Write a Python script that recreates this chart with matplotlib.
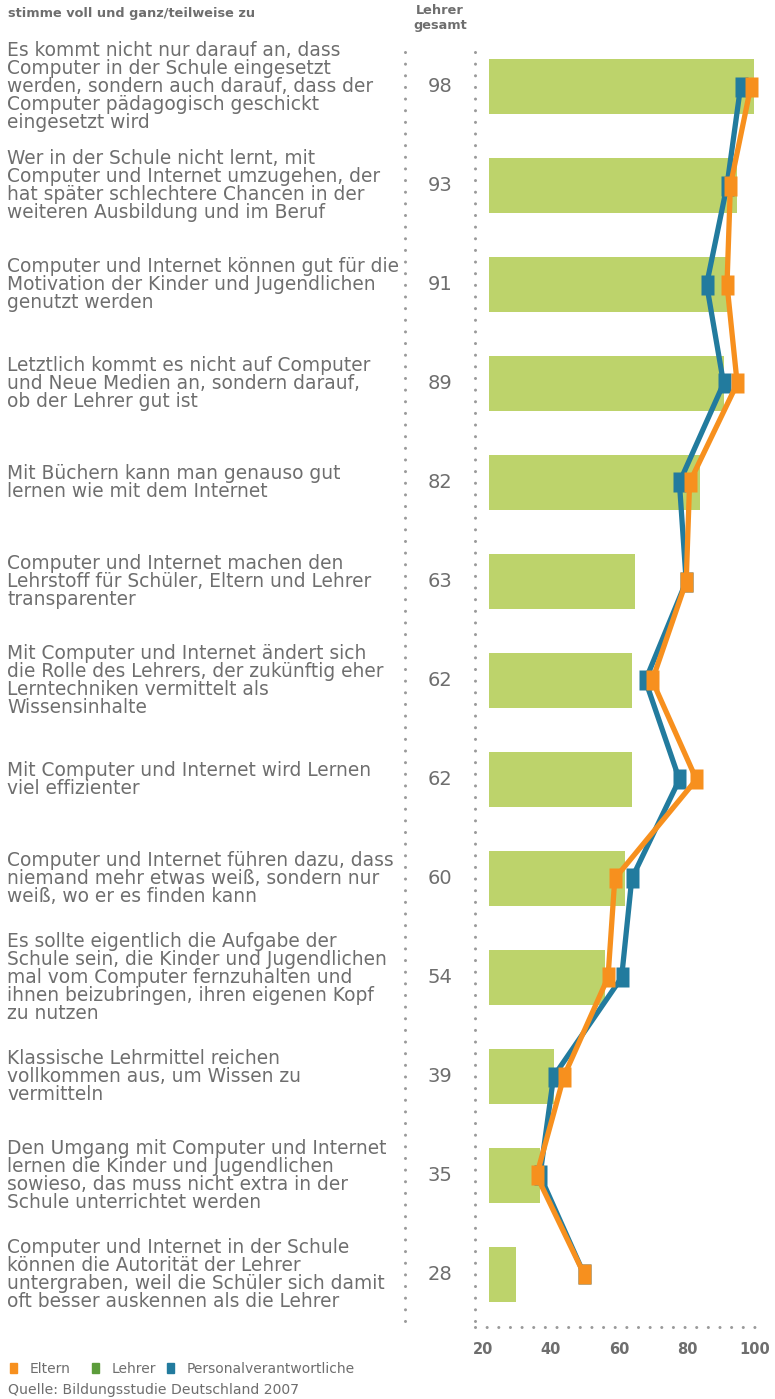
import matplotlib
matplotlib.use("Agg")
import matplotlib.pyplot as plt
from matplotlib.lines import Line2D
from matplotlib.patches import Rectangle
from matplotlib.transforms import blended_transform_factory, ScaledTranslation

# --- data -------------------------------------------------------------
statements = [
    "Es kommt nicht nur darauf an, dass\nComputer in der Schule eingesetzt\nwerden, sondern auch darauf, dass der\nComputer pädagogisch geschickt\neingesetzt wird",
    "Wer in der Schule nicht lernt, mit\nComputer und Internet umzugehen, der\nhat später schlechtere Chancen in der\nweiteren Ausbildung und im Beruf",
    "Computer und Internet können gut für die\nMotivation der Kinder und Jugendlichen\ngenutzt werden",
    "Letztlich kommt es nicht auf Computer\nund Neue Medien an, sondern darauf,\nob der Lehrer gut ist",
    "Mit Büchern kann man genauso gut\nlernen wie mit dem Internet",
    "Computer und Internet machen den\nLehrstoff für Schüler, Eltern und Lehrer\ntransparenter",
    "Mit Computer und Internet ändert sich\ndie Rolle des Lehrers, der zukünftig eher\nLerntechniken vermittelt als\nWissensinhalte",
    "Mit Computer und Internet wird Lernen\nviel effizienter",
    "Computer und Internet führen dazu, dass\nniemand mehr etwas weiß, sondern nur\nweiß, wo er es finden kann",
    "Es sollte eigentlich die Aufgabe der\nSchule sein, die Kinder und Jugendlichen\nmal vom Computer fernzuhalten und\nihnen beizubringen, ihren eigenen Kopf\nzu nutzen",
    "Klassische Lehrmittel reichen\nvollkommen aus, um Wissen zu\nvermitteln",
    "Den Umgang mit Computer und Internet\nlernen die Kinder und Jugendlichen\nsowieso, das muss nicht extra in der\nSchule unterrichtet werden",
    "Computer und Internet in der Schule\nkönnen die Autorität der Lehrer\nuntergraben, weil die Schüler sich damit\noft besser auskennen als die Lehrer",
]
lehrer = [98, 93, 91, 89, 82, 63, 62, 62, 60, 54, 39, 35, 28]
eltern = [97, 91, 90, 93, 79, 78, 68, 81, 57, 55, 42, 34, 48]
personal = [94, 90, 84, 89, 76, 78, 66, 76, 62, 59, 39, 35, 48]
x_ticks = [20, 40, 60, 80, 100]
legend_labels = ["Eltern", "Lehrer", "Personalverantwortliche"]
header_left = "stimme voll und ganz/teilweise zu"
header_col = "Lehrer\ngesamt"
source = "Quelle: Bildungsstudie Deutschland 2007"

# --- style --------------------------------------------------------------
C_ORANGE = "#F7901E"
C_BLUE = "#227B9E"
C_BAR = "#BDD36B"
C_GREEN_KEY = "#5C9C3B"
C_TEXT = "#6E6E6E"
C_DOT = "#9A9A9A"
plt.rcParams["font.family"] = ["DejaVu Sans"]

W, H = 775, 1399
fig = plt.figure(figsize=(W / 100, H / 100), dpi=100)


def fx(px):
    return px / W


def fy(py):
    return 1 - py / H


# axes geometry (pixel positions)
ax_left, ax_right, ax_top, ax_bottom = 475, 775, 50, 1327
ax = fig.add_axes([fx(ax_left), fy(ax_bottom), fx(ax_right - ax_left),
                   (ax_bottom - ax_top) / H])
ppu = 3.4          # pixels per value unit
x0_px = 489        # pixel position of value 20
ax.set_xlim(20 - (x0_px - ax_left) / ppu, 20 + (ax_right - x0_px) / ppu)
row0, row_step = 86.5, 99.0
ax.set_ylim((ax_bottom - row0) / row_step, (ax_top - row0) / row_step)

rows = list(range(len(lehrer)))

ax.barh(rows, [v - 20 for v in lehrer], left=20, height=0.556,
        color=C_BAR, edgecolor="none", zorder=1)

rect_marker = [(-0.325, -0.5), (0.325, -0.5), (0.325, 0.5), (-0.325, 0.5), (-0.325, -0.5)]
ax.plot(personal, rows, color=C_BLUE, lw=3.8, marker=rect_marker, ms=14.4,
        mec="none", solid_joinstyle="miter", zorder=3)
ax.plot(eltern, rows, color=C_ORANGE, lw=3.8, marker=rect_marker, ms=14.4,
        mec="none", solid_joinstyle="miter", zorder=4)

for s in ax.spines.values():
    s.set_visible(False)
ax.set_yticks([])
ax.set_xticks(x_ticks)
ax.set_xticklabels([str(t) for t in x_ticks], fontsize=10.5, fontweight="bold",
                   color=C_TEXT)
ax.tick_params(axis="x", length=0, pad=11)
shift = ScaledTranslation(-6 / 100, 0, fig.dpi_scale_trans)
for lab in ax.get_xticklabels():
    lab.set_transform(lab.get_transform() + shift)

# dotted guide lines
dot_kw = dict(color=C_DOT, lw=2.2, linestyle=(0, (0.01, 3.8)),
              dash_capstyle="round", transform=fig.transFigure)
fig.add_artist(Line2D([fx(405), fx(405)], [fy(52), fy(1324)], **dot_kw))
fig.add_artist(Line2D([fx(475), fx(475)], [fy(52), fy(1327)], **dot_kw))
fig.add_artist(Line2D([fx(475), fx(765)], [fy(1327), fy(1327)], **dot_kw))

# statement labels and teacher totals, one per row
tr = blended_transform_factory(fig.transFigure, ax.transData)
for i in rows:
    fig.text(fx(7), i, statements[i], transform=tr, ha="left", va="center",
             fontsize=13.4, color=C_TEXT, linespacing=0.93)
    fig.text(fx(440), i, str(lehrer[i]), transform=tr, ha="center",
             va="center", fontsize=14, color=C_TEXT)

# headers
fig.text(fx(8), fy(14), header_left, ha="left", va="center", fontsize=9.3,
         fontweight="bold", color=C_TEXT)
fig.text(fx(440), fy(18), header_col, ha="center", va="center", fontsize=9.3,
         fontweight="bold", color=C_TEXT, linespacing=1.2)

# legend row
key_colors = [C_ORANGE, C_GREEN_KEY, C_BLUE]
key_x = [10, 92, 167]
for c, x, lab in zip(key_colors, key_x, legend_labels):
    fig.add_artist(Rectangle((fx(x), fy(1373)), fx(7), 10 / H, color=c,
                             transform=fig.transFigure))
    fig.text(fx(x + 20), fy(1369), lab, ha="left", va="center", fontsize=10,
             color=C_TEXT)
fig.text(fx(8), fy(1390), source, ha="left", va="center", fontsize=10.1,
         color=C_TEXT)

fig.savefig("out.png", dpi=100, facecolor="white")
